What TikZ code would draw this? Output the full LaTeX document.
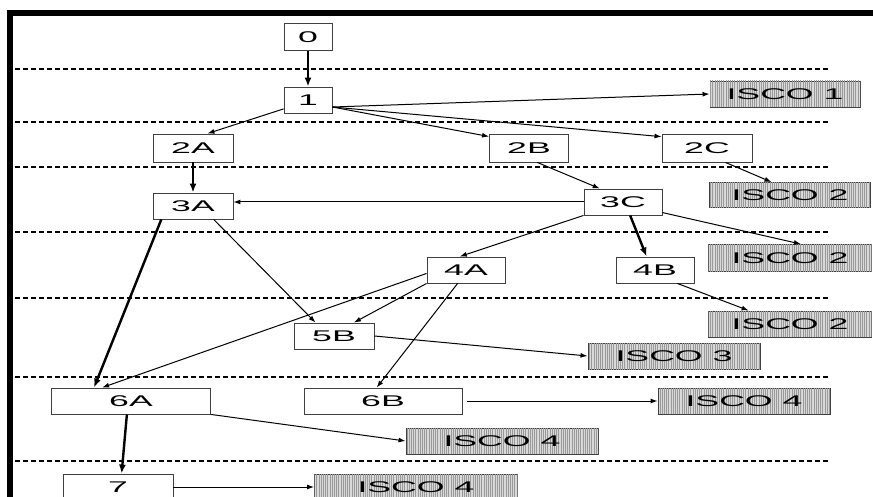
\documentclass[tikz,border=0pt]{standalone}
\usepackage{fontspec}
\usepackage{graphicx}
\setmainfont{Liberation Sans}
\usetikzlibrary{arrows.meta, patterns.meta}
\newcommand{\wtxt}[1]{\scalebox{2.3}[1]{#1}}

\begin{document}
\begin{tikzpicture}[x=1pt, y=-1pt,
	box/.style={draw=black!75, line width=0.9pt, inner sep=0pt,
		font=\fontsize{15.5}{18}\selectfont},
	isco/.style={box, fill=gray!30,
		postaction={pattern={Lines[angle=90, distance=2.2pt, line width=0.9pt]}, pattern color=gray!80}},
	link/.style={-{Latex[length=7pt, width=5pt]}, line width=1pt},
	heavy/.style={-{Latex[length=9pt, width=7pt]}, line width=2.4pt},
	level/.style={dash pattern=on 5pt off 3pt, line width=2pt}]
	\useasboundingbox (0,0) rectangle (873,497);
	\clip (0,0) rectangle (873,497);
	
	% Rahmen und Ebenen
	\draw[line width=6pt] (10,497) -- (10,13) -- (873,13);
	\foreach \y in {69,122,167,232,298,377,461}
		\draw[level] (15,\y) -- (830,\y);
	
	% Stufen
	\node[box, minimum width=48pt, minimum height=27pt] (n0) at (308,37) {\wtxt{0}};
	\node[box, minimum width=48pt, minimum height=26pt] (n1) at (308,100) {\wtxt{1}};
	\node[box, minimum width=80pt, minimum height=28pt] (n2A) at (193,148) {\wtxt{2A}};
	\node[box, minimum width=79pt, minimum height=28pt] (n2B) at (529,148) {\wtxt{2B}};
	\node[box, minimum width=90pt, minimum height=28pt] (n2C) at (707,148) {\wtxt{2C}};
	\node[box, minimum width=80pt, minimum height=26pt] (n3A) at (193,206) {\wtxt{3A}};
	\node[box, minimum width=78pt, minimum height=26pt] (n3C) at (623,202) {\wtxt{3C}};
	\node[box, minimum width=78pt, minimum height=26pt] (n4A) at (466,270) {\wtxt{4A}};
	\node[box, minimum width=78pt, minimum height=26pt] (n4B) at (655,270) {\wtxt{4B}};
	\node[box, minimum width=80pt, minimum height=26pt] (n5B) at (334,336) {\wtxt{5B}};
	\node[box, minimum width=159pt, minimum height=26pt] (n6A) at (131,401) {\wtxt{6A}};
	\node[box, minimum width=158pt, minimum height=26pt] (n6B) at (383,401) {\wtxt{6B}};
	\node[box, minimum width=110pt, minimum height=26pt] (n7) at (118,487) {\wtxt{7}};
	
	% ISCO-Kaesten
	\node[isco, minimum width=150pt, minimum height=26pt] (i1) at (785,94) {\wtxt{ISCO 1}};
	\node[isco, minimum width=161pt, minimum height=25pt] (i2a) at (790,195) {\wtxt{ISCO 2}};
	\node[isco, minimum width=163pt, minimum height=27pt] (i2b) at (790,258) {\wtxt{ISCO 2}};
	\node[isco, minimum width=163pt, minimum height=26pt] (i2c) at (790,324) {\wtxt{ISCO 2}};
	\node[isco, minimum width=172pt, minimum height=26pt] (i3) at (674,356) {\wtxt{ISCO 3}};
	\node[isco, minimum width=172pt, minimum height=26pt] (i4a) at (744,401) {\wtxt{ISCO 4}};
	\node[isco, minimum width=192pt, minimum height=26pt] (i4b) at (502,441) {\wtxt{ISCO 4}};
	\node[isco, minimum width=203pt, minimum height=26pt] (i4c) at (416,487) {\wtxt{ISCO 4}};
	
	% Uebergaenge
	\draw[heavy] (n0) -- (n1);
	\draw[link] (n1.-16) -- (i1.west);
	\draw[link] (n1.200) -- (n2A.45);
	\draw[link] (n1.-16) -- (n2B.164);
	\draw[link] (n1.-16) -- (n2C.166);
	\draw[heavy] (n2A) -- (n3A);
	\draw[link] (n2C.-38) -- (i2a.145);
	\draw[link] (n2B.-60) -- (n3C.150);
	\draw[link] (n3C.west) -- (n3C.west -| n3A.east);
	\draw[link] (n3C.south west) -- (n4A.115);
	\draw[heavy] (n3C.-62) -- (n4B.122);
	\draw[link] (n3C.-15) -- (i2b.52);
	\draw[heavy] (n3A.203) -- (n6A.160);
	\draw[link] (n3A.-33) -- (n5B.144);
	\draw[link] (n4A.south west) -- (n5B.34);
	\draw[link] (n4A.185) -- (n6A.155);
	\draw[link] (n4A.-122) -- (n6B.115);
	\draw[link] (n4B.-31) -- (i2c.162);
	\draw[link] (n5B.east) -- (i3.west);
	\draw[link] (n6A.south east) -- (i4b.west);
	\draw[heavy] (n6A.-107) -- (n7.75);
	\draw[link] ([xshift=5pt]n6B.east) -- (i4a.west);
	\draw[link] (n7.east) -- (i4c.west);
\end{tikzpicture}
\end{document}
